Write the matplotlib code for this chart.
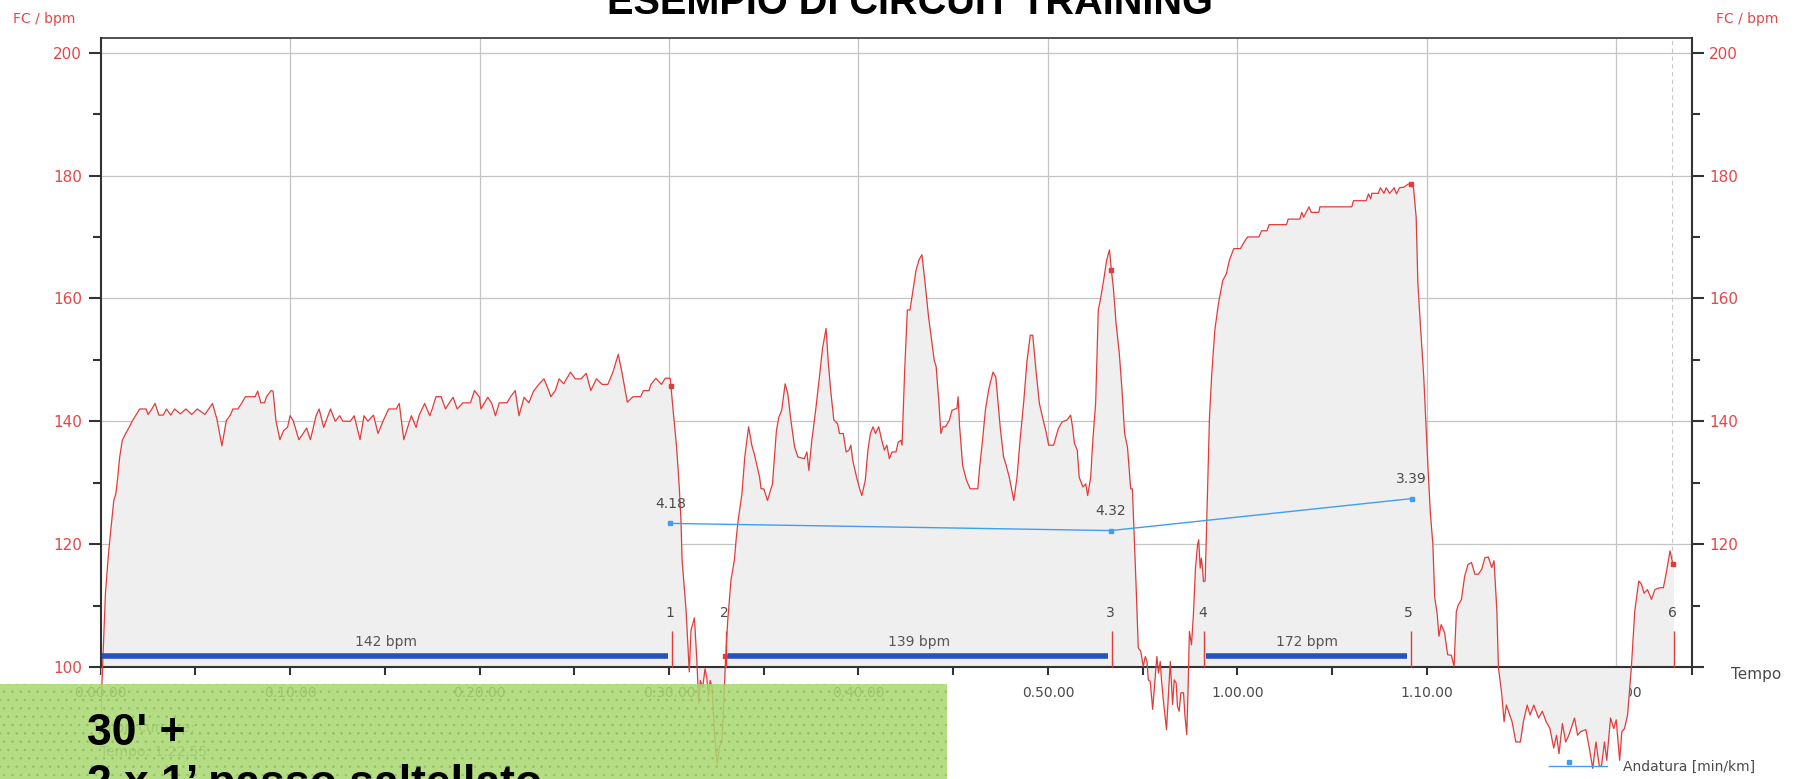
import matplotlib
matplotlib.use("Agg")
import matplotlib.pyplot as plt
import numpy as np
from matplotlib.patches import Rectangle
from matplotlib.lines import Line2D

# ---------------- data ----------------
time_min = [
    0.00, 0.10, 0.25, 0.40, 0.53, 0.69, 0.80, 0.90, 1.00, 1.14, 1.30, 1.50, 1.66, 1.90, 2.06,
    2.40, 2.50, 2.70, 2.87, 3.07, 3.30, 3.47, 3.70, 3.90, 4.20, 4.50, 4.80, 5.10, 5.50, 5.90,
    6.13, 6.40, 6.63, 6.84, 6.98, 7.24, 7.44, 7.64, 8.15, 8.29, 8.45, 8.65, 8.75, 9.00, 9.10,
    9.25, 9.46, 9.66, 9.86, 10.00, 10.16, 10.46, 10.66, 10.87, 11.07, 11.37, 11.53, 11.77,
    12.13, 12.38, 12.62, 12.78, 13.18, 13.38, 13.69, 13.90, 14.10, 14.40, 14.64, 14.90, 15.20,
    15.60, 15.76, 16.00, 16.20, 16.40, 16.65, 16.80, 17.10, 17.37, 17.50, 17.70, 17.97, 18.20,
    18.40, 18.60, 18.82, 19.12, 19.52, 19.73, 20.00, 20.07, 20.43, 20.63, 20.84, 21.04, 21.44,
    21.64, 21.88, 22.08, 22.35, 22.60, 22.85, 23.15, 23.40, 23.65, 23.76, 24.00, 24.20, 24.44,
    24.80, 25.05, 25.36, 25.63, 25.87, 26.17, 26.47, 26.77, 27.04, 27.32, 27.50, 27.80, 28.10,
    28.50, 28.65, 28.94, 29.05, 29.30, 29.60, 29.80, 30.06, 30.10, 30.20, 30.40, 30.54, 30.63,
    30.69, 30.90, 31.07, 31.16, 31.34, 31.46, 31.57, 31.65, 31.78, 31.90, 32.00, 32.08, 32.17,
    32.27, 32.40, 32.54, 32.66, 32.80, 32.90, 32.98, 33.10, 33.27, 33.45, 33.55, 33.65, 33.85,
    34.00, 34.20, 34.37, 34.50, 34.78, 34.86, 35.00, 35.20, 35.46, 35.67, 35.80, 35.95, 36.13,
    36.27, 36.43, 36.63, 36.80, 37.14, 37.28, 37.38, 37.54, 37.74, 37.94, 38.10, 38.29, 38.40,
    38.53, 38.70, 38.90, 39.00, 39.20, 39.35, 39.50, 39.60, 39.70, 39.90, 40.06, 40.18, 40.36,
    40.50, 40.63, 40.77, 40.90, 41.07, 41.23, 41.37, 41.50, 41.63, 41.77, 41.98, 42.10, 42.24,
    42.30, 42.44, 42.58, 42.72, 42.88, 43.04, 43.20, 43.35, 43.50, 43.70, 43.85, 44.00, 44.10,
    44.25, 44.35, 44.46, 44.60, 44.80, 44.94, 45.20, 45.26, 45.34, 45.50, 45.70, 45.90, 46.30,
    46.40, 46.55, 46.70, 46.87, 47.10, 47.25, 47.48, 47.66, 47.80, 47.96, 48.20, 48.37, 48.53,
    48.73, 48.90, 49.07, 49.20, 49.37, 49.55, 49.75, 49.90, 50.04, 50.30, 50.55, 50.75, 51.00,
    51.20, 51.30, 51.40, 51.55, 51.65, 51.85, 52.00, 52.10, 52.26, 52.36, 52.52, 52.66, 52.80,
    52.96, 53.10, 53.25, 53.35, 53.45, 53.60, 53.77, 53.90, 54.05, 54.20, 54.37, 54.46, 54.57,
    54.67, 54.77, 54.90, 55.03, 55.14, 55.23, 55.30, 55.40, 55.53, 55.65, 55.75, 55.84, 55.93,
    56.00, 56.10, 56.26, 56.37, 56.46, 56.58, 56.67, 56.77, 56.84, 56.93, 57.02, 57.16, 57.23,
    57.33, 57.40, 57.47, 57.58, 57.68, 57.79, 57.90, 57.96, 58.04, 58.10, 58.16, 58.21, 58.30,
    58.41, 58.53, 58.65, 58.81, 59.00, 59.23, 59.42, 59.58, 59.81, 60.16, 60.35, 60.54, 61.14,
    61.28, 61.56, 61.68, 62.60, 62.68, 63.30, 63.40, 63.50, 63.78, 63.90, 64.30, 64.36, 66.04,
    66.13, 66.80, 66.92, 67.04, 67.10, 67.44, 67.55, 67.74, 67.86, 68.04, 68.28, 68.40, 68.56,
    68.79, 69.02, 69.18, 69.30, 69.44, 69.53, 69.67, 69.84, 69.95, 70.07, 70.19, 70.32, 70.42,
    70.55, 70.64, 70.76, 70.94, 71.10, 71.30, 71.44, 71.56, 71.65, 71.83, 72.00, 72.18, 72.36,
    72.54, 72.72, 72.90, 73.07, 73.25, 73.43, 73.55, 73.70, 73.78, 73.96, 74.08, 74.20, 74.50,
    74.70, 74.94, 75.10, 75.30, 75.45, 75.65, 75.90, 76.10, 76.30, 76.50, 76.70, 76.85, 76.98,
    77.16, 77.33, 77.50, 77.80, 77.96, 78.13, 78.40, 78.58, 78.76, 78.93, 79.10, 79.22, 79.38,
    79.50, 79.70, 79.87, 80.00, 80.18, 80.30, 80.44, 80.60, 80.80, 80.98, 81.19, 81.33, 81.47,
    81.65, 81.86, 82.04, 82.30, 82.49, 82.66, 82.84, 82.97, 83.02,
]
hr_bpm = [
    92.0, 100.0, 112.0, 118.0, 122.2, 127.1, 128.2, 130.9, 134.1, 136.9, 137.9, 139.0, 140.0, 141.2, 142.0,
    142.0, 141.1, 142.0, 142.9, 141.0, 141.0, 142.0, 141.0, 142.0, 141.2, 142.0, 141.1, 142.0, 141.1, 142.9,
    140.4, 136.0, 140.1, 141.0, 142.0, 142.0, 142.9, 144.0, 144.0, 144.9, 143.0, 143.0, 144.0, 145.0, 144.9,
    140.1, 137.0, 138.5, 139.0, 140.9, 140.1, 137.0, 137.9, 138.9, 137.0, 140.9, 142.0, 139.0,
    142.0, 140.0, 140.9, 140.0, 140.0, 140.9, 137.0, 140.9, 140.0, 141.0, 138.0, 140.0, 142.0,
    142.0, 142.9, 137.0, 139.0, 140.9, 139.0, 140.9, 142.9, 140.9, 142.0, 144.0, 144.0, 142.0,
    143.0, 143.9, 142.0, 143.0, 143.0, 145.0, 143.9, 142.0, 143.9, 143.0, 140.9, 143.0, 143.0,
    144.0, 145.0, 140.9, 143.9, 143.0, 144.9, 146.1, 146.9, 145.0, 144.0, 145.0, 146.9, 146.1,
    148.0, 146.9, 146.9, 147.8, 145.0, 146.9, 146.0, 146.0, 148.0, 150.9, 148.2, 143.1, 144.0,
    144.0, 145.0, 145.0, 146.0, 147.0, 146.0, 147.0, 147.0, 145.8, 142.3, 135.8, 129.3, 123.9,
    117.4, 109.2, 99.2, 106.0, 108.0, 101.6, 94.0, 97.8, 96.7, 99.7, 98.1, 95.1, 97.8,
    96.7, 89.1, 84.2, 87.0, 88.0, 94.6, 101.1, 107.6, 114.1, 117.4, 121.0, 123.9, 128.2,
    134.2, 139.1, 136.1, 134.7, 130.9, 129.0, 129.0, 127.1, 129.8, 138.5, 140.7, 141.8, 146.1,
    144.5, 140.2, 135.8, 134.2, 133.9, 135.0, 132.0, 136.9, 141.8, 147.2, 151.8, 155.1, 149.9,
    145.1, 140.2, 139.6, 138.0, 138.0, 135.0, 135.3, 136.1, 133.6, 130.9, 129.0, 127.9, 130.4,
    135.3, 138.0, 139.1, 138.0, 139.1, 136.9, 135.3, 136.1, 133.9, 135.0, 135.0, 136.6, 136.9,
    136.1, 148.3, 158.1, 158.1, 161.4, 164.6, 166.3, 167.1, 163.0, 157.0, 153.5, 149.9, 148.9,
    142.9, 138.0, 139.1, 139.1, 140.2, 141.8, 142.1, 144.0, 139.1, 132.8, 130.4, 129.0, 129.0,
    132.6, 136.9, 141.8, 145.1, 148.0, 147.2, 139.1, 134.2, 132.8, 130.9, 127.1, 130.9, 136.9,
    143.4, 149.9, 154.0, 154.0, 148.3, 142.9, 140.2, 138.3, 136.1, 136.1, 138.8, 139.9, 140.2,
    141.0, 139.1, 136.4, 135.3, 130.9, 129.3, 129.8, 127.9, 130.9, 136.4, 142.9, 158.1, 160.3,
    163.3, 166.2, 167.9, 164.6, 161.9, 155.9, 151.0, 145.6, 138.0, 135.8, 129.0, 129.0, 120.0,
    112.0, 103.1, 102.6, 100.1, 101.7, 100.9, 97.9, 97.7, 93.1, 97.7, 101.7, 99.0, 100.9,
    97.7, 94.4, 89.8, 96.0, 100.9, 93.9, 97.9, 97.4, 93.6, 92.8, 95.8, 95.8, 92.2,
    89.0, 96.6, 105.8, 103.6, 108.5, 116.1, 119.9, 120.7, 116.1, 117.7, 116.1, 113.9, 114.0,
    127.1, 140.7, 147.7, 154.8, 159.1, 162.9, 164.0, 166.2, 168.1, 168.1, 169.1, 170.0, 170.0,
    171.0, 171.0, 172.0, 172.0, 172.9, 172.9, 174.0, 173.2, 174.9, 174.0, 174.0, 174.9, 174.9,
    175.9, 175.9, 177.0, 176.2, 177.1, 177.1, 178.0, 177.1, 178.0, 177.1, 178.0, 177.0, 178.0,
    178.1, 178.6, 178.6, 178.0, 173.2, 162.4, 155.3, 147.2, 140.1, 132.0, 125.0, 120.0, 111.3,
    108.6, 105.0, 106.9, 105.6, 102.0, 101.9, 100.1, 109.0, 110.0, 111.0, 114.8, 116.7, 117.0,
    115.1, 115.1, 115.9, 117.8, 117.9, 116.2, 117.3, 109.1, 100.0, 95.5, 91.1, 93.8, 91.1,
    87.8, 87.8, 91.1, 93.8, 92.2, 93.8, 91.7, 92.8, 91.1, 90.0, 86.8, 88.9, 85.9,
    90.8, 87.8, 88.9, 91.7, 88.9, 89.5, 89.8, 86.8, 83.5, 87.8, 84.0, 83.8, 87.8,
    84.8, 91.7, 90.0, 91.4, 84.8, 89.5, 90.0, 92.2, 100.0, 109.1, 114.0, 113.5, 112.0,
    112.6, 111.0, 112.6, 112.9, 112.9, 115.6, 118.9, 117.0, 116.7,
]

lap_end_time = [30.16, 33.01, 53.37, 58.25, 69.15, 83.07]
lap_numbers = ["1", "2", "3", "4", "5", "6"]
curve_mark_time = [30.10, 53.35, 69.18, 83.02]

bar_start = [0.0, 33.01, 58.25]
bar_end = [30.16, 53.37, 69.15]
bar_avg_bpm = [142, 139, 172]
recovery_mark_time = [32.93]

pace_time = [30.07, 53.32, 69.20]
pace_label = ["4.18", "4.32", "3.39"]

cursor_time = 82.92
x_major = [0, 10, 20, 30, 40, 50, 60, 70, 80]
x_minor = [5, 15, 25, 35, 45, 55, 65, 75, 84.0]
y_major = [100, 120, 140, 160, 180, 200]
y_minor = [110, 130, 150, 170, 190]
y_right_labels = ["", "120", "140", "160", "180", "200"]

# ---------------- styling constants ----------------
W, H = 1794, 779
Y_BOTTOM, Y_TOP = 81.77, 202.43
X_MAX = 84.0
BASE = 100
RED = "#e23b3b"
LABEL_RED = "#e4474a"
DARK = "#333333"
GREY_TXT = "#4a4a4a"
GRID = "#c4c4c4"
FILL = "#efefef"
BLUE_BAR = "#2452c2"
PACE_BLUE = "#3f9ef2"
PACE_BASE, PACE_SCALE = 100.7, 1.625   # pace axis mapping (km/h -> bpm level)

plt.rcParams["font.family"] = ["DejaVu Sans"]

fig = plt.figure(figsize=(W / 100, H / 100), dpi=100)
ax = fig.add_axes([100.7 / W, 0.0, (1692 - 100.7) / W, 1 - 37.7 / H])
ax.set_xlim(0, X_MAX)
ax.set_ylim(Y_BOTTOM, Y_TOP)

t = np.array(time_min)
hr = np.array(hr_bpm)

# grid (below fill)
ax.vlines(x_major[1:], BASE, Y_TOP, colors=GRID, lw=0.9, zorder=1)
ax.hlines(y_major[1:], 0, X_MAX, colors=GRID, lw=0.9, zorder=1)
ax.vlines([cursor_time], BASE, Y_TOP, colors="#c8c8c8", lw=0.8,
          linestyles=(0, (4, 3)), zorder=1)

# filled HR area
ax.fill_between(t, hr, BASE, color=FILL, lw=0, zorder=2)
ax.plot(t, hr, color=RED, lw=0.9, zorder=3)
ax.plot(curve_mark_time, np.interp(curve_mark_time, t, hr), ls="none", marker="s",
        ms=3, color=RED, zorder=4)

# lap markers
ax.vlines(lap_end_time, BASE, BASE + 5.9, colors=RED, lw=1.0, zorder=4)
for lt, ln in zip(lap_end_time, lap_numbers):
    ax.text(lt - 0.1, BASE + 8.8, ln, ha="center", va="center", fontsize=10,
            color=GREY_TXT, zorder=5)

# lap average bars
for bs, be, bv in zip(bar_start, bar_end, bar_avg_bpm):
    ax.plot([bs + 0.08, be - 0.2], [BASE + 1.8, BASE + 1.8], color=BLUE_BAR, lw=4.0,
            solid_capstyle="butt", zorder=4)
    ax.text((bs + be) / 2, BASE + 4.0, f"{bv} bpm", ha="center", va="center",
            fontsize=10, color="#555555", zorder=5)
ax.plot(recovery_mark_time, [BASE + 1.8], ls="none", marker="s", ms=3.5, color=RED,
        zorder=4)

# axes styling
for side in ["left", "right"]:
    ax.spines[side].set_visible(False)
ax.spines["bottom"].set_position(("data", BASE))
ax.spines["bottom"].set_color(DARK)
ax.spines["bottom"].set_linewidth(1.5)
ax.spines["top"].set_color(DARK)
ax.spines["top"].set_linewidth(1.2)

ax.set_xticks(x_major)
ax.set_xticks(x_minor, minor=True)
ax.set_xticklabels([f"{m // 60}.{m % 60:02d}.00" for m in x_major])
ax.tick_params(axis="x", which="both", direction="out", length=6, width=1.5,
               color=DARK, labelsize=10, labelcolor=GREY_TXT, pad=8)

ax.set_yticks(y_major)
ax.set_yticks(y_minor, minor=True)
ax.set_yticklabels([str(v) for v in y_major])
ax.tick_params(axis="y", which="major", direction="out", length=8.5, width=1.5,
               color=DARK, labelsize=11, labelcolor=LABEL_RED, pad=5)
ax.tick_params(axis="y", which="minor", direction="out", length=5.5, width=1.5,
               color=DARK)
ax.spines["left"].set_visible(True)
ax.spines["left"].set_bounds(BASE, Y_TOP)
ax.spines["left"].set_color(DARK)
ax.spines["left"].set_linewidth(1.5)

# right axis
axr = ax.twinx()
axr.set_ylim(Y_BOTTOM, Y_TOP)
for side in ["left", "top", "bottom"]:
    axr.spines[side].set_visible(False)
axr.spines["right"].set_bounds(BASE, Y_TOP)
axr.spines["right"].set_color(DARK)
axr.spines["right"].set_linewidth(1.5)
axr.set_yticks(y_major)
axr.set_yticks(y_minor, minor=True)
axr.set_yticklabels(y_right_labels)
axr.tick_params(axis="y", which="major", direction="out", length=8.5, width=1.5,
                color=DARK, labelsize=11, labelcolor=LABEL_RED, pad=4)
axr.tick_params(axis="y", which="minor", direction="out", length=5.5, width=1.5,
                color=DARK)

# pace (Andatura) axis
axp = ax.twinx()
axp.set_ylim((Y_BOTTOM - PACE_BASE) / PACE_SCALE, (Y_TOP - PACE_BASE) / PACE_SCALE)
axp.set_axis_off()
speed = [60.0 / (int(p.split(".")[0]) + int(p.split(".")[1]) / 60.0) for p in pace_label]
axp.plot(pace_time, speed, color=PACE_BLUE, lw=1.0, zorder=3)
axp.plot(pace_time, speed, ls="none", marker="s", ms=3.2, color=PACE_BLUE, zorder=4)
for pt, sp, pl in zip(pace_time, speed, pace_label):
    axp.annotate(pl, (pt, sp), xytext=(0, 14), textcoords="offset points",
                 ha="center", va="center", fontsize=10, color=GREY_TXT)

# ---------------- figure-level texts ----------------
fig.text(910 / W, 1 - 14 / H, "ESEMPIO DI CIRCUIT TRAINING", ha="center",
         va="baseline", fontsize=28.6, fontweight="bold", family="Liberation Sans",
         color="black")
fig.text(44 / W, 1 - 19 / H, "FC / bpm", ha="center", va="center", fontsize=10,
         color=LABEL_RED)
fig.text(1747 / W, 1 - 19 / H, "FC / bpm", ha="center", va="center", fontsize=10,
         color=LABEL_RED)
fig.text(1756 / W, 1 - 675 / H, "Tempo", ha="center", va="center", fontsize=11,
         color=GREY_TXT)

# Andatura legend
fig.add_artist(Line2D([1549 / W, 1607 / W], [1 - 766 / H, 1 - 766 / H],
                      transform=fig.transFigure, color=PACE_BLUE, lw=1.0))
fig.add_artist(Line2D([1569 / W], [1 - 762 / H], transform=fig.transFigure,
                      marker="s", ms=3.2, color=PACE_BLUE, ls="none"))
fig.text(1623 / W, 1 - 767 / H, "Andatura [min/km]", ha="left", va="center",
         fontsize=10, color=GREY_TXT)

# faint cursor info (beneath the green note)
fig.text(95 / W, 1 - 728 / H, "Valori cursore:", ha="left", va="center", fontsize=10,
         color="#777777", zorder=0.5)
fig.text(100 / W, 1 - 752 / H, "Tempo: 1.22.55", ha="left", va="center", fontsize=10,
         color="#777777", zorder=0.5)

# green note box
fig.patches.append(Rectangle((0, 0), 947 / W, 95 / H, transform=fig.transFigure,
                             facecolor="#a9d872", edgecolor="none", alpha=0.86,
                             zorder=1))
plt.rcParams["hatch.linewidth"] = 0.6
fig.patches.append(Rectangle((0, 0), 947 / W, 95 / H, transform=fig.transFigure,
                             facecolor="none", edgecolor="#93c45c", lw=0,
                             hatch="..", zorder=1.1))
fig.text(87 / W, 1 - 745 / H, "30' +", ha="left", va="baseline", fontsize=32,
         fontweight="bold", family="Liberation Sans", color="black", zorder=3)
fig.text(87 / W, 1 - 764 / H, "2 x 1\u2019 passo saltellato", ha="left", va="top",
         fontsize=32, fontweight="bold", family="Liberation Sans", color="black",
         zorder=3)

fig.savefig("out.png", dpi=100)
